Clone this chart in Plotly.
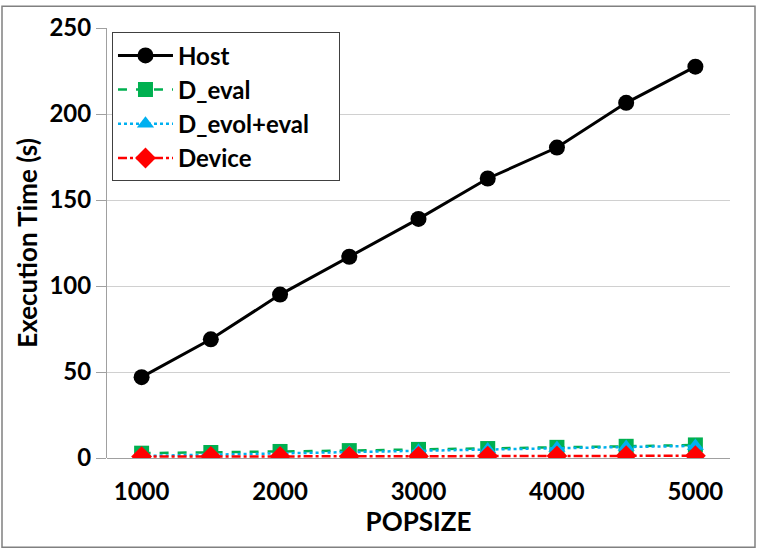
import plotly.graph_objects as go

popsize = [1000, 1500, 2000, 2500, 3000, 3500, 4000, 4500, 5000]
host = [47, 69, 95, 117, 139, 162.5, 180.5, 206.5, 227.5]
d_eval = [2.8, 3.2, 3.8, 4.3, 5.0, 5.5, 6.2, 6.8, 7.6]
d_evol_eval = [1.2, 2.0, 2.6, 3.2, 4.2, 5.0, 5.8, 6.4, 7.0]
device = [0.8, 0.9, 0.9, 1.0, 1.0, 1.1, 1.2, 1.3, 1.3]
series_names = ["Host", "D_eval", "D_evol+eval", "Device"]
y_ticks = [0, 50, 100, 150, 200, 250]
x_ticks = [1000, 2000, 3000, 4000, 5000]

FONT = "Lato"
NB = "\u00a0"

def label(n, pad=0):
    return f"<b>{n}</b>" + NB * pad

fig = go.Figure()
fig.add_trace(go.Scatter(x=popsize, y=host, name=label(series_names[0]), mode="lines+markers",
                         line=dict(color="black", width=3),
                         marker=dict(symbol="circle", size=16, color="black")))
fig.add_trace(go.Scatter(x=popsize, y=d_eval, name=label(series_names[1]), mode="lines+markers",
                         line=dict(color="#00B050", width=2.5, dash="dash"),
                         marker=dict(symbol="square", size=15, color="#00B050")))
fig.add_trace(go.Scatter(x=popsize, y=d_evol_eval, name=label(series_names[2], 4), mode="lines+markers",
                         line=dict(color="#00B0F0", width=2.5, dash="dot"),
                         marker=dict(symbol="triangle-up", size=15, color="#00B0F0")))
fig.add_trace(go.Scatter(x=popsize, y=device, name=label(series_names[3]), mode="lines+markers",
                         line=dict(color="#FF0000", width=2.5, dash="dashdot"),
                         marker=dict(symbol="diamond", size=16, color="#FF0000")))

fig.update_layout(
    width=758, height=551,
    margin=dict(l=107, r=28, t=24, b=93),
    paper_bgcolor="white", plot_bgcolor="white",
    font=dict(family=FONT, size=24, color="black"),
    showlegend=True,
    legend=dict(x=0.008, y=0.99, xanchor="left", yanchor="top",
                bordercolor="#404040", borderwidth=1, bgcolor="white",
                font=dict(family=FONT, size=24, color="black"),
                itemwidth=55, tracegroupgap=0),
    xaxis=dict(range=[750, 5250], tickvals=x_ticks, ticktext=[f"<b>{v}</b>" for v in x_ticks],
               showgrid=False, zeroline=False, showline=False, ticks="outside", ticklen=12,
               tickcolor="rgba(0,0,0,0)",
               tickfont=dict(family=FONT, size=24, color="black"),
               title=dict(text="<b>POPSIZE</b>", font=dict(family=FONT, size=26, color="black"), standoff=2)),
    yaxis=dict(range=[0, 250], tickvals=y_ticks, ticktext=[f"<b>{v}</b>" for v in y_ticks],
               showgrid=True, gridcolor="#D0D0D0", gridwidth=1,
               zeroline=True, zerolinecolor="#A0A0A0", zerolinewidth=1,
               showline=True, linecolor="#A0A0A0", linewidth=1,
               ticks="outside", ticklen=10, tickcolor="#A0A0A0",
               tickfont=dict(family=FONT, size=24, color="black"),
               title=dict(text="<b>Execution Time (s)</b>", font=dict(family=FONT, size=26, color="black"), standoff=4)),
)

fig.add_shape(type="rect", xref="paper", yref="paper",
              x0=-105/623, x1=648/623, y0=-90/434, y1=456/434,
              line=dict(color="#808080", width=1.5), fillcolor="rgba(0,0,0,0)", layer="below")

fig.write_html("out.html", config={"displayModeBar": False},
               post_script="document.body.style.margin='0px';document.body.style.overflow='hidden';")
